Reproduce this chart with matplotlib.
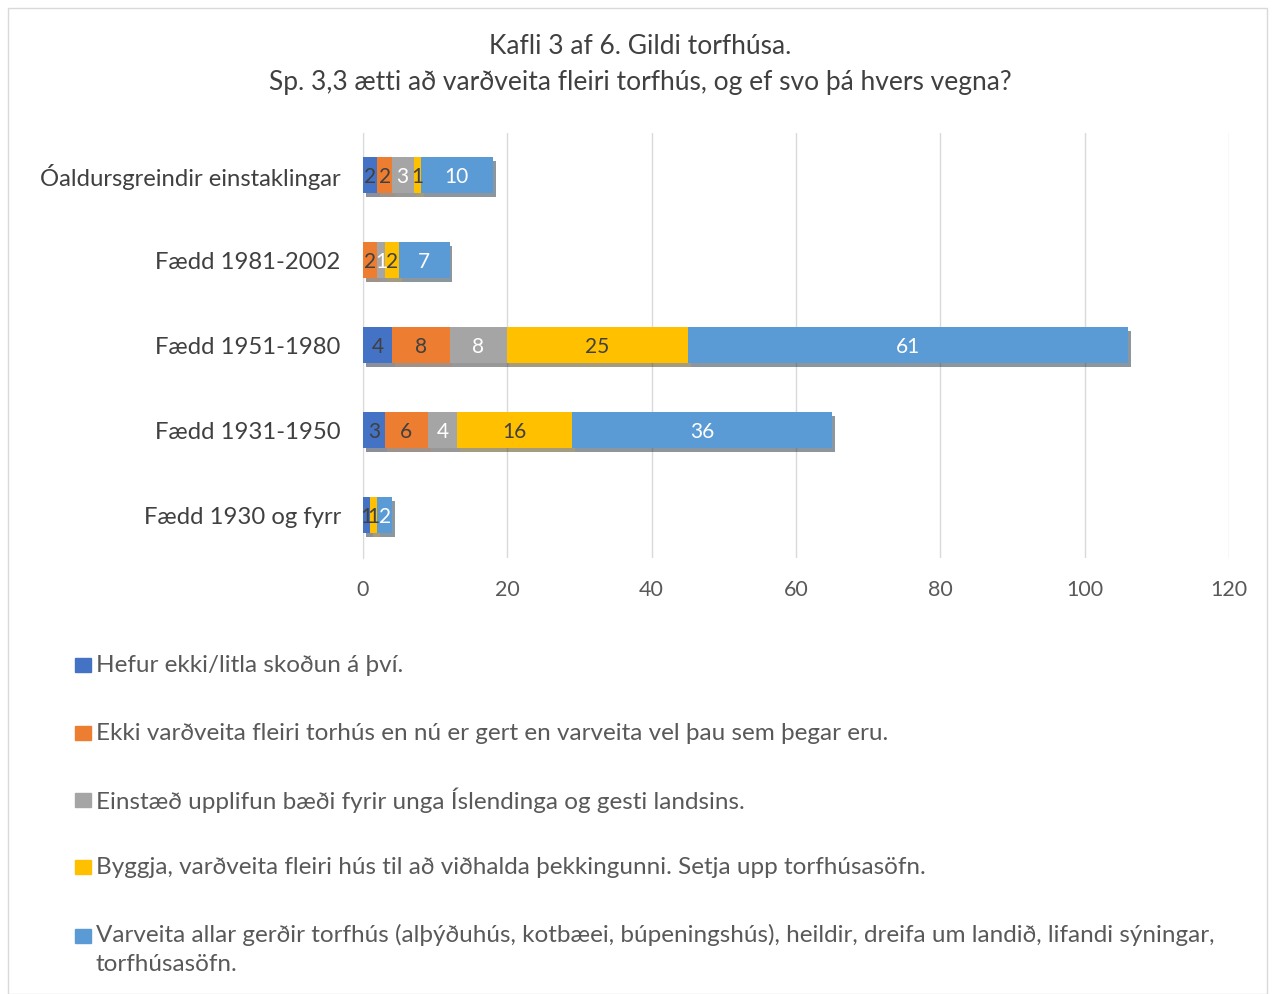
import numpy as np
import matplotlib.pyplot as plt
import matplotlib.patheffects as pe
from matplotlib.patches import Rectangle

plt.rcParams['font.family'] = ['Lato', 'DejaVu Sans']

# data
groups = ["Fædd 1930 og fyrr", "Fædd 1931-1950", "Fædd 1951-1980",
          "Fædd 1981-2002", "Óaldursgreindir einstaklingar"]
hefur_ekki = [1, 3, 4, 0, 2]
ekki_vardveita = [0, 6, 8, 2, 2]
einstaed = [0, 4, 8, 1, 3]
byggja = [1, 16, 25, 2, 1]
varveita = [2, 36, 61, 7, 10]

series_names = ["Hefur ekki/litla skoðun á því.",
                "Ekki varðveita fleiri torhús en nú er gert en varveita vel þau sem þegar eru.",
                "Einstæð upplifun bæði fyrir unga Íslendinga og gesti landsins.",
                "Byggja, varðveita fleiri hús til að viðhalda þekkingunni. Setja upp torfhúsasöfn.",
                "Varveita allar gerðir torfhús (alþýðuhús, kotbæei, búpeningshús), heildir, dreifa um landið, lifandi sýningar,\ntorfhúsasöfn."]
series = [hefur_ekki, ekki_vardveita, einstaed, byggja, varveita]
colors = ["#4472C4", "#ED7D31", "#A5A5A5", "#FFC000", "#5B9BD5"]
text_colors = ["#404040", "#404040", "white", "#404040", "white"]

fig = plt.figure(figsize=(12.75, 9.94), dpi=100)
ax = fig.add_axes([0.2847, 0.439, 0.6792, 0.4277])

y = np.arange(len(groups))
left = np.zeros(len(groups))
for vals, c, tc in zip(series, colors, text_colors):
    vals = np.array(vals)
    bars = ax.barh(y, vals, left=left, height=0.42, color=c, zorder=3,
                   path_effects=[pe.SimplePatchShadow(offset=(2, -3), alpha=0.5), pe.Normal()])
    for i, v in enumerate(vals):
        if v > 0:
            ax.text(left[i] + v / 2, y[i] - 0.02, str(v), ha='center', va='center',
                    fontsize=15, color=tc, zorder=4)
    left += vals

ax.set_xlim(0, 120)
ax.set_ylim(-0.5, 4.5)
ax.set_xticks(range(0, 121, 20))
ax.set_yticks(y)
ax.set_yticklabels(groups, fontsize=17.2, color='#404040')
ax.tick_params(axis='x', labelsize=15.5, colors='#595959', length=0, pad=16)
ax.tick_params(axis='y', length=0, pad=16)
ax.grid(axis='x', color='#D9D9D9', linewidth=1, zorder=0)
for s in ['top', 'right', 'bottom']:
    ax.spines[s].set_visible(False)
ax.spines['left'].set_color('#D9D9D9')

fig.text(0.502, 0.953, "Kafli 3 af 6. Gildi torfhúsa.", ha='center', va='center',
         fontsize=19, color='#404040')
fig.text(0.502, 0.917, "Sp. 3,3 ætti að varðveita fleiri torfhús, og ef svo þá hvers vegna?",
         ha='center', va='center', fontsize=19, color='#404040')

# legend drawn manually
leg_y = [665, 733, 800, 867, 936]
for name, c, ly in zip(series_names, colors, leg_y):
    fig.patches.append(Rectangle((75 / 1275, 1 - (ly + 7) / 994), 16 / 1275, 14 / 994,
                                 transform=fig.transFigure, color=c))
    fig.text(96 / 1275, 1 - ly / 994, name, ha='left', va='top' if '\n' in name else 'center',
             fontsize=17.5, color='#595959', linespacing=1.45)
# fix vertical alignment for the wrapped entry
fig.texts[-1].set_position((96 / 1275, 1 - (ly - 12) / 994))

fig.patches.append(Rectangle((8 / 1275, 0), 1 - 16 / 1275, 1 - 8 / 994, transform=fig.transFigure,
                             fill=False, edgecolor='#D9D9D9', linewidth=1))

fig.savefig("out.png", dpi=100)
